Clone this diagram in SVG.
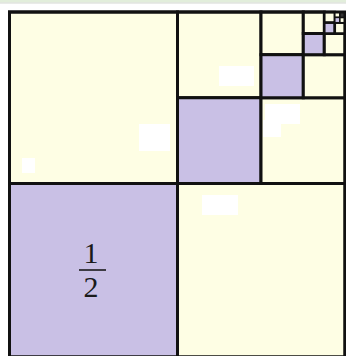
<svg xmlns="http://www.w3.org/2000/svg" width="346" height="356" viewBox="0 0 346 356">
<style>
.y{fill:#fefee4;stroke:#111;stroke-width:3}
.p{fill:#c9c0e5;stroke:#111;stroke-width:3}
.s5{stroke-width:2.5}
.s6{stroke-width:1.5}
.w{fill:#ffffff}
.t{font-family:"Liberation Serif","Times New Roman",serif;font-size:30px;fill:#1a1a1a;text-anchor:middle}
</style>
<rect x="0" y="0" width="346" height="356" fill="#ffffff"/>
<rect x="0" y="0" width="346" height="2.5" fill="#e2eedb"/>
<rect x="0" y="2.5" width="346" height="1" fill="#d4d8d2"/>
<g id="level1">
<g id="q1-tl"><rect class="y" x="9.5" y="12" width="168" height="171.5"/></g>
<g id="q1-bl"><rect class="p" x="9.5" y="183.5" width="168" height="173.5"/>
<text class="t" x="91" y="263">1</text>
<line x1="79" y1="270" x2="106" y2="270" stroke="#1a1a1a" stroke-width="1.6"/>
<text class="t" x="91" y="297">2</text></g>
<g id="q1-br"><rect class="y" x="177.5" y="183.5" width="167.5" height="173.5"/></g>
</g>
<g id="level2">
<g id="q2-tl"><rect class="y" x="177.5" y="12" width="83.5" height="85.75"/></g>
<g id="q2-bl"><rect class="p" x="177.5" y="97.75" width="83.5" height="85.75"/></g>
<g id="q2-br"><rect class="y" x="261" y="97.75" width="84" height="85.75"/></g>
</g>
<g id="level3">
<g id="q3-tl"><rect class="y" x="261" y="12" width="42.3" height="42.7"/></g>
<g id="q3-bl"><rect class="p" x="261" y="54.7" width="42.3" height="43.05"/></g>
<g id="q3-br"><rect class="y" x="303.3" y="54.7" width="41.7" height="43.05"/></g>
</g>
<g id="level4">
<g id="q4-tl"><rect class="y" x="303.3" y="12" width="21" height="21.5"/></g>
<g id="q4-bl"><rect class="p" x="303.3" y="33.5" width="21" height="21.2"/></g>
<g id="q4-br"><rect class="y" x="324.3" y="33.5" width="20.7" height="21.2"/></g>
</g>
<g id="level5">
<g id="q5-tl"><rect class="y s5" x="324.3" y="12" width="10.5" height="10.7"/></g>
<g id="q5-bl"><rect class="p s5" x="324.3" y="22.7" width="10.5" height="10.8"/></g>
<g id="q5-br"><rect class="y s5" x="334.8" y="22.7" width="10.2" height="10.8"/></g>
</g>
<g id="level6">
<g id="q6-tl"><rect class="y s6" x="334.8" y="12" width="5.1" height="5.4"/></g>
<g id="q6-bl"><rect class="p s6" x="334.8" y="17.4" width="5.1" height="5.3"/></g>
<g id="q6-br"><rect class="y s6" x="339.9" y="17.4" width="5.1" height="5.3"/></g>
<g id="q6-tr"><rect x="339.9" y="12" width="5.1" height="5.4" fill="#333" stroke="#111" stroke-width="1.5"/></g>
</g>
<g id="outline"><rect x="9.5" y="12" width="335.5" height="345" fill="none" stroke="#111" stroke-width="3"/></g>
<g id="connectors"></g>
<g id="patches">
<rect class="w" x="139" y="124" width="31" height="27"/>
<rect class="w" x="22" y="158" width="13" height="15"/>
<rect class="w" x="219" y="66" width="35" height="20"/>
<rect class="w" x="265" y="104" width="35" height="20"/>
<rect class="w" x="263" y="120" width="18" height="17"/>
<rect class="w" x="202" y="195" width="36" height="20"/>
</g>
</svg>
